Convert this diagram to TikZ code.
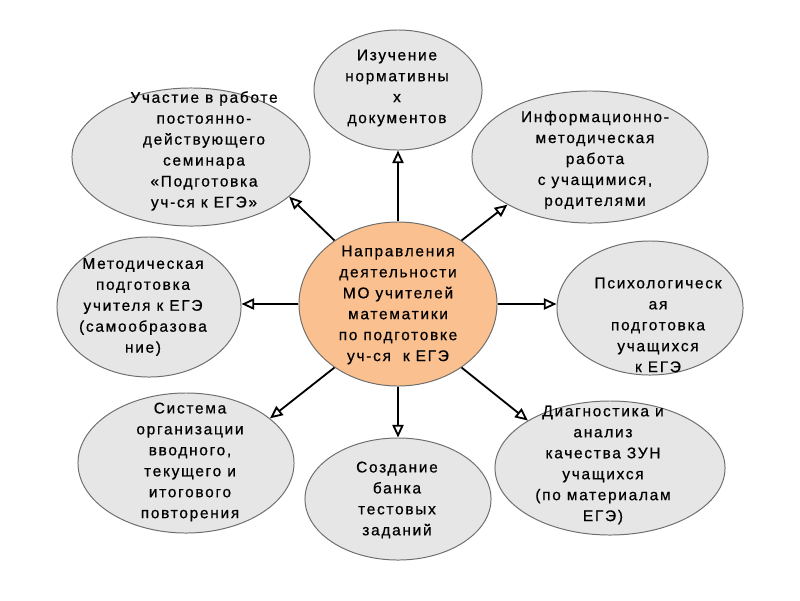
\documentclass[tikz,border=0pt]{standalone}
\usepackage{fontspec}
\setmainfont[LetterSpace=11,FakeBold=0.6]{Liberation Sans}
\usetikzlibrary{shapes.geometric,arrows.meta}
\definecolor{ovalgray}{RGB}{230,230,230}
\definecolor{ovalline}{RGB}{110,110,110}
\definecolor{peach}{RGB}{250,192,144}

\begin{document}
\begin{tikzpicture}[x=0.025cm,y=-0.025cm,line width=1.3pt,>={Triangle[open,length=9pt,width=8pt]},
                    oval/.style={ellipse,draw=ovalline,line width=0.7pt,fill=ovalgray,inner sep=0pt},
                    txt/.style={align=center,inner sep=0pt,font=\fontsize{11}{14.9}\selectfont}]
                    \useasboundingbox (0,0) rectangle (800,600);
                    % ovals
                    \node[oval,fill=peach,minimum width=4.95cm,minimum height=4.1cm] (mo) at (398,304) {};
                    \node[oval,minimum width=4.2cm,minimum height=3cm] (norm) at (398,90) {};
                    \node[oval,minimum width=5.95cm,minimum height=3.45cm] (sem) at (191,157) {};
                    \node[oval,minimum width=5.9cm,minimum height=3.3cm] (info) at (590,157) {};
                    \node[oval,minimum width=4.6cm,minimum height=3.5cm] (self) at (149,307) {};
                    \node[oval,minimum width=4.65cm,minimum height=3.35cm] (psy) at (650,308) {};
                    \node[oval,minimum width=5.4cm,minimum height=3.5cm] (rep) at (186,463) {};
                    \node[oval,minimum width=4.65cm,minimum height=3.05cm] (bank) at (398,499) {};
                    \node[oval,minimum width=5.75cm,minimum height=3.35cm] (diag) at (610,468) {};
                    % texts
                    \node[txt] (mo-t) at (398,305) {Направления\\деятельности\\МО учителей\\математики\\по подготовке\\уч-ся \ к ЕГЭ};
                    \node[txt] (norm-t) at (397,88) {Изучение\\нормативны\\х\\документов};
                    \node[txt] (sem-t) at (204,151) {Участие в работе\\постоянно-\\действующего\\семинара\\«Подготовка\\уч-ся к ЕГЭ»};
                    \node[txt] (info-t) at (595,160) {Информационно-\\методическая\\работа\\с учащимися,\\родителями};
                    \node[txt] (self-t) at (143,307) {Методическая\\подготовка\\учителя к ЕГЭ\\(самообразова\\ние)};
                    \node[txt] (psy-t) at (658,325) {Психологическ\\ая\\подготовка\\учащихся\\к ЕГЭ};
                    \node[txt] (rep-t) at (190,462) {Система\\организации\\вводного,\\текущего и\\итогового\\повторения};
                    \node[txt] (bank-t) at (397,500) {Создание\\банка\\тестовых\\заданий};
                    \node[txt] (diag-t) at (603,465) {Диагностика и\\анализ\\качества ЗУН\\учащихся\\(по материалам\\ЕГЭ)};
                    % arrows
                    \draw[->] (mo) -- (norm);
                    \draw[->] (mo.135) -- (sem.-22);
                    \draw[->] (mo.45) -- (info.210);
                    \draw[->] (mo.west) -- (self.east |- mo.west);
                    \draw[->] (mo.east) -- (psy.west |- mo.east);
                    \draw[->] (mo.225) -- (rep.28);
                    \draw[->] (mo) -- (bank);
                    \draw[->] (mo.-45) -- (diag.150);
                \end{tikzpicture}
\end{document}
